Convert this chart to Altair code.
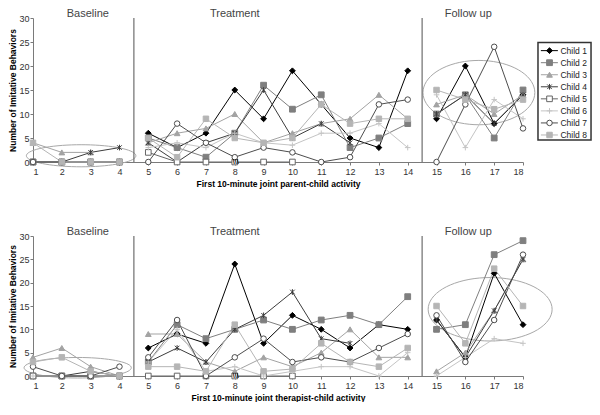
import altair as alt
import numpy as np
import pandas as pd

sessions = list(range(1, 19))
children = ["Child 1", "Child 2", "Child 3", "Child 4", "Child 5", "Child 6", "Child 7", "Child 8"]
y_ticks = [0, 5, 10, 15, 20, 25, 30]

# Parent-child activity (top panel), sessions 1..18
top_child1 = [0, 0, 0, 0, 6, 3, 6, 15, 9, 19, 12, 5, 3, 19, 9, 20, 8, 14]
top_child2 = [0, 0, 0, 0, 5, 3, 1, 6, 16, 11, 14, 3, 5, 8, 10, 14, 5, 15]
top_child3 = [4, 2, 2, None, 4, 6, 7, 10, 4, 6, 8, 9, 14, 9, 12, 14, 10, 14]
top_child4 = [0, 0, 2, 3, 4, 0, 4, 6, 15, 5, 8, 4, None, None, 10, 14, 8, 14]
top_child5 = [0, 0, 0, 0, 2, 0, 0, 0, 0, 0, None, None, None, None, None, None, None, None]
top_child6 = [0, 0, 0, 0, 3, 4, 3, 6, 4, 3.5, 6, 6, 8, 3, 14, 3, 13, 9]
top_child7 = [0, 0, 0, 0, 0, 8, 4, 1, 3, 2, 0, 1, 12, 13, 0, 12, 24, 7]
top_child8 = [4, 0, 0, 0, 5, 1, 9, 5, 4, 5, 12, 8, 9, 9, 15, 13, 11, 13]

# Therapist-child activity (bottom panel)
bot_child1 = [0, 0, 0, 0, 6, 9, 7, 24, 7, 13, 10, 6, 11, 10, 12, 4, 22, 11]
bot_child2 = [0, 0, 0, 0, 3, 11, 8, 10, 12, 10, 12, 13, 11, 17, 10, 11, 26, 29]
bot_child3 = [4, 6, 2, 0, 9, 9, 3, 1, 4, 2, 5, 10, 4, 4, 1, 5, 14, 25]
bot_child4 = [0, 0, 1, 0, 3, 6, 3, 10, 13, 18, 8, 7, None, None, 12, 4, 14, 25]
bot_child5 = [0, 0, 0, 0, 0, 0, 0, 0, 0, 0, None, None, None, None, None, None, None, None]
bot_child6 = [0, 0, 0, 0, 3, 10, 1, 2, 0, 1, 2, 2, 0, 5, 0, 4, 8, 7]
bot_child7 = [2, 0, 0, 2, 4, 12, 0, 4, 8, 3, 4, 3, 6, 9, 13, 3, 12, 26]
bot_child8 = [3, 4, 1, 0, 2, 2, 1, 11, 1, 1.5, 7, 3, 2, 6, 15, 7, 23, 15]

top_series = [top_child1, top_child2, top_child3, top_child4, top_child5, top_child6, top_child7, top_child8]
bot_series = [bot_child1, bot_child2, bot_child3, bot_child4, bot_child5, bot_child6, bot_child7, bot_child8]

phase_names = ["Baseline", "Treatment", "Follow up"]
phase_label_x = [2.9, 8.0, 16.1]
phase_breaks = [4.5, 14.5]

# (center x, center y, radius x, radius y) of the hand-drawn ellipses
top_ellipses = [(2.67, 1.3, 1.9, 2.3), (16.47, 14.46, 1.94, 6.7)]
bot_ellipses = [(2.55, 1.77, 1.86, 2.2), (16.86, 14.3, 2.15, 6.8)]

colors = ["#000000", "#7f7f7f", "#a3a3a3", "#3c3c3c", "#666666", "#c4c4c4", "#4d4d4d", "#b5b5b5"]
fills = ["#000000", "#7f7f7f", "#a3a3a3", "transparent", "#ffffff", "transparent", "#ffffff", "#b5b5b5"]
asterisk = "M-0.8,-0.8L0.8,0.8M-0.8,0.8L0.8,-0.8M0,-1L0,1"
plus = "M-1,0L1,0M0,-1L0,1"
shapes = ["diamond", "square", "triangle-up", asterisk, "square", plus, "circle", "square"]
sizes = [34, 30, 32, 32, 30, 36, 52, 30]

color_scale = alt.Scale(domain=children, range=colors)
fill_scale = alt.Scale(domain=children, range=fills)
shape_scale = alt.Scale(domain=children, range=shapes)
size_scale = alt.Scale(domain=children, range=sizes)


def phase_of(s):
    if s <= 4:
        return "Baseline"
    if s <= 14:
        return "Treatment"
    return "Follow up"


def long_df(series):
    rows = []
    for child, vals in zip(children, series):
        for s, v in zip(sessions, vals):
            if v is None:
                continue
            rows.append({"child": child, "session": s, "value": v, "phase": phase_of(s)})
    return pd.DataFrame(rows)


def ellipse_df(ells):
    rows = []
    t = np.linspace(0, 2 * np.pi, 73)
    for k, (cx, cy, rx, ry) in enumerate(ells):
        for i, a in enumerate(t):
            rows.append({"e": k, "ord": i, "session": cx + rx * np.cos(a), "value": cy + ry * np.sin(a)})
    return pd.DataFrame(rows)


def panel(series, ells, xtitle, height, legend=False):
    x_enc = alt.X("session:Q", scale=alt.Scale(domain=[1, 18], nice=False, zero=False),
                  axis=alt.Axis(values=sessions, format="d", grid=False, title=xtitle,
                                titlePadding=3, labelOverlap=False))
    y_enc = alt.Y("value:Q", scale=alt.Scale(domain=[0, 30], nice=False),
                  axis=alt.Axis(values=y_ticks, grid=False, title="Number of Imitative Behaviors",
                                titlePadding=1, labelPadding=1, labelOverlap=False))

    df = long_df(series)

    ell = alt.Chart(ellipse_df(ells)).mark_line(color="#a8a8a8", strokeWidth=1).encode(
        x=x_enc, y=y_enc, detail="e:N", order="ord:Q")

    rules_df = pd.DataFrame({"session": phase_breaks, "value": [0, 0], "value2": [30, 30]})
    rules = alt.Chart(rules_df).mark_rule(color="#6e6e6e", strokeWidth=1.2).encode(
        x=x_enc, y=y_enc, y2="value2:Q")

    text_df = pd.DataFrame({"session": phase_label_x, "value": [30, 30, 30], "label": phase_names})
    texts = alt.Chart(text_df).mark_text(fontSize=11, color="#444444", dy=-4, baseline="middle",
                                         font="Liberation Sans").encode(x=x_enc, y=y_enc, text="label:N")

    lines = alt.Chart(df).mark_line(strokeWidth=1).encode(
        x=x_enc, y=y_enc,
        color=alt.Color("child:N", scale=color_scale, legend=None),
        detail="phase:N")

    def points(data):
        return alt.Chart(data).mark_point(opacity=1, strokeWidth=1).encode(
            x=x_enc, y=y_enc,
            shape=alt.Shape("child:N", scale=shape_scale, legend=None),
            fill=alt.Fill("child:N", scale=fill_scale, legend=None),
            stroke=alt.Stroke("child:N", scale=color_scale, legend=None),
            size=alt.Size("child:N", scale=size_scale, legend=None))

    pts = points(df)

    brk = alt.Chart(pd.DataFrame({"session": [8], "value": [0], "t": ["\\\\\\"]})).mark_text(
        fontSize=7, fontWeight="bold", dy=0, dx=1, baseline="middle", color="#000").encode(
        x=x_enc, y=y_enc, text="t:N")

    layers = [ell, rules, texts, lines, pts, brk]

    if legend:
        idx = np.arange(len(children))
        rows_y = 23.2 - idx * 2.51
        leg_pts = pd.DataFrame({"child": children, "value": rows_y, "session": 18.92})
        leg_rule = pd.DataFrame({"child": children, "value": rows_y, "session": 18.62, "s2": 19.21})
        leg_txt = pd.DataFrame({"child": children, "value": rows_y, "session": 19.3})
        box = alt.Chart(pd.DataFrame({"session": [18.52], "s2": [20.36], "value": [24.9], "v2": [4.6]})).mark_rect(
            fill="#ffffff", stroke="#333333", strokeWidth=1.5).encode(x=x_enc, x2="s2:Q", y=y_enc, y2="v2:Q")
        lrule = alt.Chart(leg_rule).mark_rule(strokeWidth=1).encode(
            x=x_enc, x2="s2:Q", y=y_enc,
            color=alt.Color("child:N", scale=color_scale, legend=None))
        lpts = points(leg_pts)
        ltxt = alt.Chart(leg_txt).mark_text(align="left", baseline="middle", fontSize=8.5, color="#222",
                                            font="Liberation Sans").encode(
            x=x_enc, y=y_enc, text="child:N")
        layers += [box, lrule, lpts, ltxt]

    return alt.layer(*layers).properties(width=490, height=height)


top = panel(top_series, top_ellipses, "First 10-minute joint parent-child activity", 144, legend=True)
bottom = panel(bot_series, bot_ellipses, "First 10-minute joint therapist-child activity", 140)

chart = alt.vconcat(top, bottom, spacing=38).properties(
    padding={"left": 0, "top": 0, "right": 0, "bottom": 0}
).configure_view(stroke=None).configure_axis(
    labelFont="Liberation Sans", labelFontSize=9, labelColor="#333333", labelPadding=2,
    domainColor="#7a7a7a", tickColor="#7a7a7a", tickSize=3,
    titleFont="Liberation Sans", titleFontWeight="bold", titleFontSize=8.5, titleColor="#000000"
)

chart.save("out.html", embed_options={"renderer": "svg", "actions": False})
